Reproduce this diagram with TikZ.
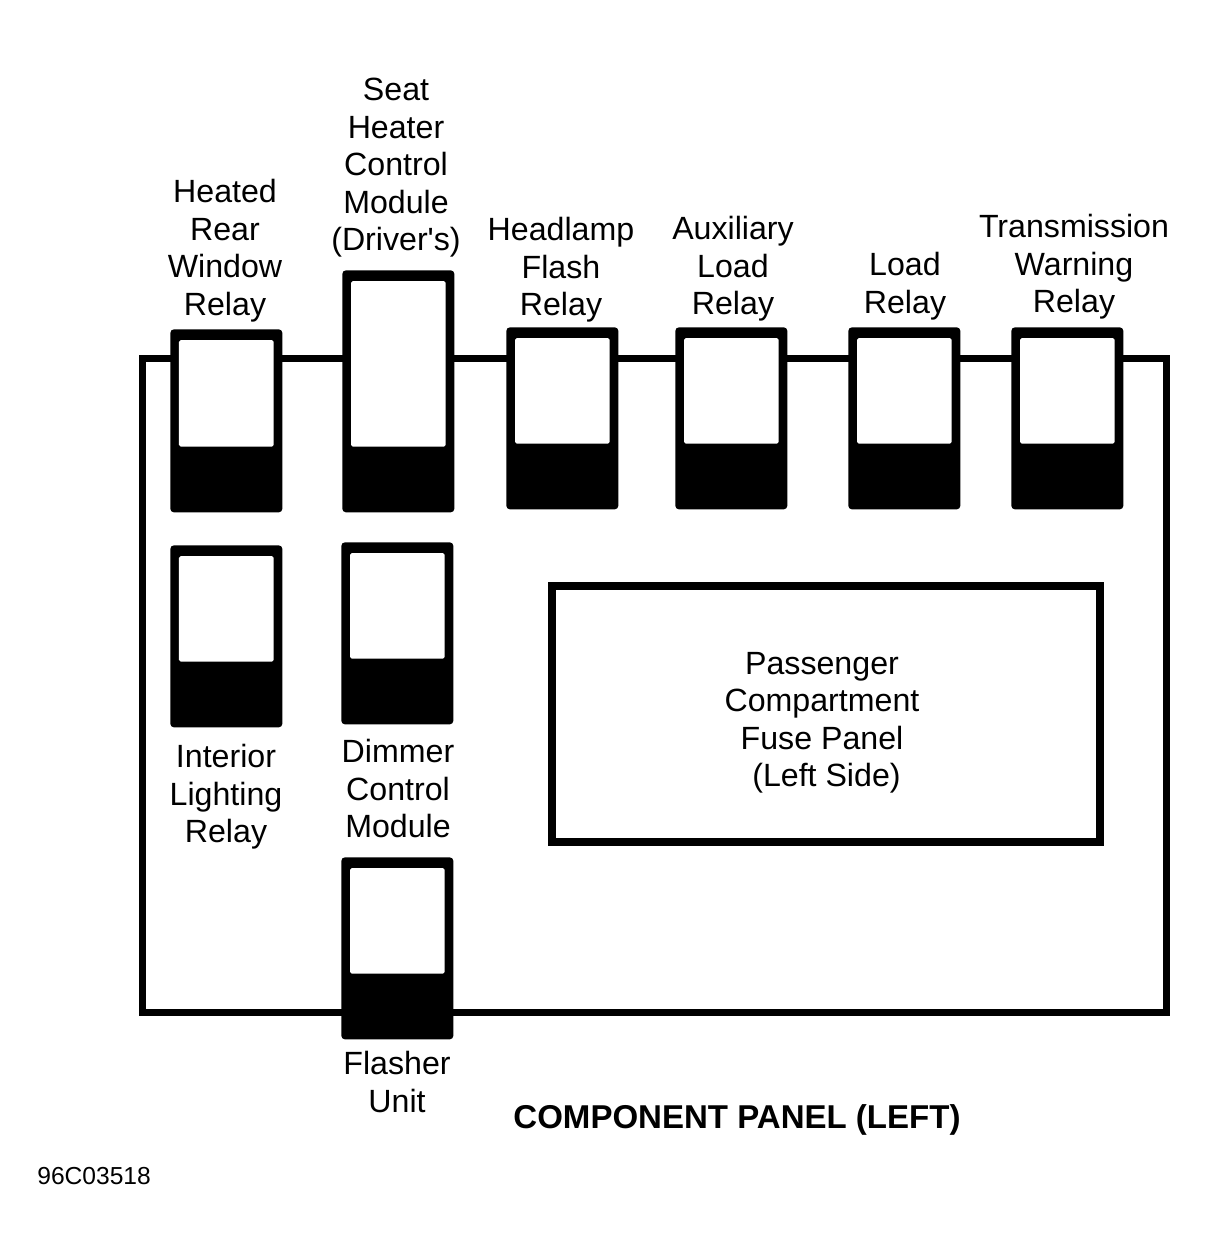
\documentclass[tikz,border=0pt]{standalone}
\usepackage{fontspec}
\setmainfont{Liberation Sans}
\usetikzlibrary{positioning}
\tikzset{frame/.style={line width=0.14cm},
  relay/.style={fill=black,rounded corners=2pt,inner sep=0pt,minimum width=2.24cm,minimum height=3.64cm,anchor=north west},
  lbl/.style={align=center,inner sep=0pt,anchor=north,font=\fontsize{18.3}{21.34}\selectfont},
  fusebox/.style={draw,line width=0.16cm,inner sep=0pt}}
\newcommand{\relaywin}[1]{\fill[white,rounded corners=1pt] ([xshift=0.18cm,yshift=-0.22cm]#1.north west) rectangle ([xshift=-0.18cm,yshift=1.32cm]#1.south east);}

\begin{document}
\begin{tikzpicture}[x=0.02cm,y=-0.02cm]
\useasboundingbox (0,0) rectangle (1208,1259);
\coordinate (ftl) at (142,358);\coordinate (fbr) at (1166,1012);
\draw[frame] (ftl) rectangle (fbr);
% relays on the top row
\node[relay,minimum height=3.66cm] (hrw) at (170,329){};
\node[relay,minimum height=4.84cm] (shc) at (342,270){};
\node[relay] (hfr) at (506,327){};
\node[relay] (alr) at (675,327){};
\node[relay] (ldr) at (848,327){};
\node[relay] (twr) at (1011,327){};
% lower relays
\node[relay] (ilr) at (170,545){};
\node[relay] (dcm) at (341,542){};
\node[relay] (flu) at (341,857){};
\foreach \r in {hrw,shc,hfr,alr,ldr,twr,ilr,dcm,flu}{\relaywin{\r}}
\node[lbl] (hrwl) at (225,179){Heated\\Rear\\Window\\Relay};
\node[lbl] (shcl) at (396,78){Seat\\Heater\\Control\\Module\\(Driver\textquotesingle s)};
\node[lbl] (hfrl) at (561,217){Headlamp\\Flash\\Relay};
\node[lbl] (alrl) at (733,216){Auxiliary\\Load\\Relay};
\node[lbl] (ldrl) at (905,252){Load\\Relay};
\node[lbl] (twrl) at (1074,214){Transmission\\Warning\\Relay};
\node[lbl] (ilrl) at (226,744){Interior\\Lighting\\Relay};
\node[lbl] (dcml) at (398,739){Dimmer\\Control\\Module};
\node[lbl] (flul) at (397,1051){Flasher\\Unit};
\node[fusebox,minimum width=10.96cm,minimum height=5.12cm] (fuse) at (826,714){};
\node[lbl] (fusel) at (822,652){Passenger\\Compartment\\Fuse Panel\\\ (Left Side)};
\node[lbl,font=\fontsize{18.8}{22}\selectfont\bfseries] (title) at (737,1104){COMPONENT PANEL (LEFT)};
\node[lbl,anchor=north west,font=\fontsize{14}{16}\selectfont] (code) at (37,1167){96C03518};
\end{tikzpicture}
\end{document}
